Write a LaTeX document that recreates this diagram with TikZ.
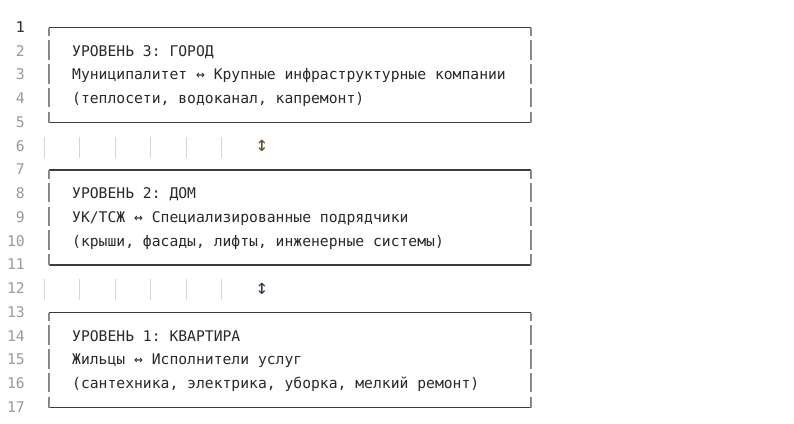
\documentclass[tikz,border=0pt]{standalone}
\usepackage{fontspec}
\setmonofont{DejaVu Sans Mono}
\usepackage{xcolor}
\usepackage{tikz}

\definecolor{numgray}{HTML}{9A9A9A}
\definecolor{numcur}{HTML}{333333}
\definecolor{codeink}{HTML}{2A2A2A}
\definecolor{frameink}{HTML}{3C3C3C}
\definecolor{barorange}{HTML}{B47C3C}
\definecolor{barblue}{HTML}{5E9CCF}
\definecolor{guidegray}{HTML}{D6D6D6}
\definecolor{arrowbrown}{HTML}{6E4A2A}
\definecolor{arrowblue}{HTML}{2F4060}

\newcommand{\editorfont}{\ttfamily\fontsize{14.7pt}{17pt}\selectfont}
% one box-drawing bar: orange and blue fringe side by side
\newcommand{\boxbar}[3]{%
	\draw[barorange,line width=1pt] ({#1-0.5},{#2}) -- ({#1-0.5},{#3});
	\draw[barblue,line width=0.8pt] ({#1+0.4},{#2}) -- ({#1+0.4},{#3});}

\tikzset{
	codeline/.style={anchor=base west,inner sep=0pt,font=\editorfont,text=codeink},
	linenumber/.style={anchor=base east,inner sep=0pt,font=\editorfont,text=numgray},
	updown/.style={anchor=center,inner sep=0pt,font=\ttfamily\fontsize{21pt}{24pt}\selectfont},
	frameline/.style={frameink,line width=1.1pt},
	indentguide/.style={guidegray,line width=1pt},
}

\begin{document}
\begin{tikzpicture}
	\path[use as bounding box,fill=white] (0pt,0pt) rectangle (794pt,-423pt);
	\begin{scope}[yshift=-3.75pt,x=1pt,y=-23.75pt]
	% line numbers
	\foreach \n in {1,...,17}
		\node[linenumber] (num\n) at (25,{\n+0.2}) {\n};
	\node[linenumber,text=numcur] at (num1.base east) {1};
	% frames
	\foreach \lev in {1,7,13}{
		\draw[frameline] (49,\lev) -- (531,\lev) (49,\lev+4) -- (531,\lev+4);
		\foreach \edge in {49,531}{
			\boxbar{\edge}{\lev}{\lev+0.358}
			\foreach \rowin in {1,2,3}{
				\boxbar{\edge}{\lev+\rowin-0.463}{\lev+\rowin+0.358}
			}
			\boxbar{\edge}{\lev+4-0.463}{\lev+4}
		}
	}
	% indent guides between levels
	\foreach \gr in {6,12}{
		\foreach \gi in {0,...,5}{
			\draw[indentguide] ({44.3+35.5*\gi},{\gr-0.4}) -- ({44.3+35.5*\gi},{\gr+0.49});
		}
	}
	% level 3
	\node[codeline] (city) at (72,2.2) {УРОВЕНЬ 3: ГОРОД};
	\node[codeline] (cityPair) at (72,3.2) {Муниципалитет ↔ Крупные инфраструктурные компании};
	\node[codeline] (cityList) at (72,4.2) {(теплосети, водоканал, капремонт)};
	% level 2
	\node[codeline] (house) at (72,8.2) {УРОВЕНЬ 2: ДОМ};
	\node[codeline] (housePair) at (72,9.2) {УК/ТСЖ ↔ Специализированные подрядчики};
	\node[codeline] (houseList) at (72,10.2) {(крыши, фасады, лифты, инженерные системы)};
	% level 1
	\node[codeline] (flat) at (72,14.2) {УРОВЕНЬ 1: КВАРТИРА};
	\node[codeline] (flatPair) at (72,15.2) {Жильцы ↔ Исполнители услуг};
	\node[codeline] (flatList) at (72,16.2) {(сантехника, электрика, уборка, мелкий ремонт)};
	% links between levels
	\node[updown,text=arrowbrown] (link32) at (262,6) {↕};
	\node[updown,text=arrowblue] (link21) at (262,12) {↕};
	\end{scope}
\end{tikzpicture}
\end{document}
